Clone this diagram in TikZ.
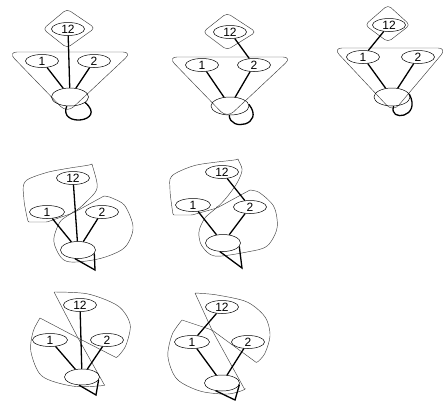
\documentclass[tikz,border=0pt]{standalone}
\usepackage{fontspec}
\setmainfont{Liberation Sans}
\usetikzlibrary{shapes.geometric}

\begin{document}
\begin{tikzpicture}[x=1pt, y=-1pt,
  vert/.style={draw, ellipse, line width=0.5pt, minimum width=33pt, minimum height=13pt, inner sep=0pt, font=\fontsize{12}{12}\selectfont},
  hub/.style={vert, minimum width=36pt, minimum height=17pt},
  edge/.style={line width=1.3pt},
  region/.style={draw=black!75, line width=0.45pt, rounded corners=1pt}
]
\useasboundingbox (0,0) rectangle (448,405);

% panel 1
\draw[region, rounded corners=4pt] (67,9) -- (43,29) -- (67,48) -- (95,28) -- cycle;
\draw[region, rounded corners=9pt] (8,52) -- (132,52) -- (67,113) -- cycle;
\node[vert] (ta) at (68,29) {12};
\node[vert] (oa) at (42,61) {1};
\node[vert] (wa) at (94,61) {2};
\node[hub, minimum width=37pt, minimum height=18pt] (ha) at (70,97) {};
\draw[edge] (ta) -- (ha);
\draw[edge] (oa) -- (ha);
\draw[edge] (wa) -- (ha);
\draw[edge] (ha.250) .. controls (58,128) and (108,122) .. (ha.-20);

% panel 2
\draw[region, rounded corners=4pt] (227,13) -- (203,32) -- (227,50) -- (256,32) -- cycle;
\draw[region, rounded corners=9pt] (168,57) -- (292,57) -- (227,118) -- cycle;
\node[vert] (tb) at (230,32) {12};
\node[vert] (ob) at (202,65) {1};
\node[vert] (wb) at (254,65) {2};
\node[hub, minimum width=38pt, minimum height=18pt] (hb) at (230,106) {};
\draw[edge] (tb) -- (wb);
\draw[edge] (ob) -- (hb);
\draw[edge] (wb) -- (hb);
\draw[edge] (hb.-95) .. controls (230,132) and (265,125) .. (hb.5);

% panel 3
\draw[region, rounded corners=4pt] (388,5) -- (365,25) -- (388,42) -- (410,25) -- cycle;
\draw[region, rounded corners=9pt] (333,48) -- (447,48) -- (393,112) -- cycle;
\node[vert] (tc) at (389,25) {12};
\node[vert] (oc) at (363,57) {1};
\node[vert] (wc) at (418,57) {2};
\node[hub, minimum height=18pt] (hc) at (392,97) {};
\draw[edge] (tc) -- (oc);
\draw[edge] (oc) -- (hc);
\draw[edge] (wc) -- (hc);
\draw[edge] (hc.-80) .. controls (388,122) and (422,118) .. (hc.10);

% panel 4
\draw[region] plot[smooth] coordinates {(28,222) (24,200) (25,182) (45,173) (70,168) (92,165)}
  -- plot[smooth] coordinates {(92,165) (97,188) (84,204) (73,213)} -- (47,222) -- cycle;
\draw[region] (104,196) -- (73,213)
  -- plot[smooth] coordinates {(73,213) (60,222) (54,242) (66,261) (98,259) (124,248) (133,228) (125,206) (112,198) (104,196)};
\node[vert] (td) at (73,178) {12};
\node[vert, minimum width=35pt] (od) at (47,212) {1};
\node[vert] (wd) at (102,212) {2};
\node[hub, minimum width=35pt] (hd) at (78,250) {};
\coordinate (ld) at (95,270);
\draw[edge] (td) -- (hd);
\draw[edge] (od) -- (hd);
\draw[edge] (wd) -- (hd);
\draw[edge] (hd.250) -- (ld) -- (hd.-12);

% panel 5
\draw[region] plot[smooth] coordinates {(173,215) (170,190) (172,176) (193,166) (217,162) (238,160)}
  -- plot[smooth] coordinates {(238,160) (242,170) (237,183) (227,197) (217,208)} -- (192,215) -- cycle;
\draw[region] (250,190) -- (217,208)
  -- plot[smooth] coordinates {(217,208) (205,218) (199,232) (202,246) (215,256) (247,252) (267,246) (277,228) (274,207) (260,193) (250,190)};
\node[vert] (te) at (222,172) {12};
\node[vert, minimum width=35pt] (oe) at (193,205) {1};
\node[vert] (we) at (250,207) {2};
\node[hub, minimum width=35pt] (he) at (223,243) {};
\coordinate (le) at (242,268);
\draw[edge] (te) -- (we);
\draw[edge] (oe) -- (he);
\draw[edge] (we) -- (he);
\draw[edge] (he.250) -- (le) -- (he.-12);

% panel 6
\draw[region] (54,292) -- (78,338) -- (117,358)
  -- plot[smooth] coordinates {(117,358) (126,345) (130,324) (118,306) (88,294) (54,292)};
\draw[region] (40,318) -- (78,338) -- (105,386)
  -- plot[smooth] coordinates {(105,386) (72,386) (42,376) (31,352) (33,332) (40,318)};
\node[vert] (tf) at (80,305) {12};
\node[vert, minimum width=35pt] (of) at (50,340) {1};
\node[vert] (wf) at (107,340) {2};
\node[hub, minimum width=35pt, minimum height=16pt] (hf) at (82,377) {};
\coordinate (lf) at (96,395);
\draw[edge] (tf) -- (hf);
\draw[edge] (of) -- (hf);
\draw[edge] (wf) -- (hf);
\draw[edge] (hf.250) -- (lf) -- (hf.-10);

% panel 7
\draw[region] (195,293) -- (212,330) -- (257,363)
  -- plot[smooth] coordinates {(257,363) (265,353) (270,335) (265,317) (247,302) (217,295) (195,293)};
\draw[region] (182,320) -- (212,330) -- (245,390)
  -- plot[smooth] coordinates {(245,390) (227,394) (200,391) (177,379) (168,357) (172,335) (182,320)};
\node[vert] (tg) at (222,307) {12};
\node[vert, minimum width=35pt] (og) at (192,342) {1};
\node[vert] (wg) at (248,342) {2};
\node[hub, minimum width=35pt, minimum height=16pt] (hg) at (222,383) {};
\coordinate (lg) at (235,400);
\draw[edge] (tg) -- (og);
\draw[edge] (og) -- (hg);
\draw[edge] (wg) -- (hg);
\draw[edge] (hg.230) -- (lg) -- (hg.-5);
\end{tikzpicture}
\end{document}
